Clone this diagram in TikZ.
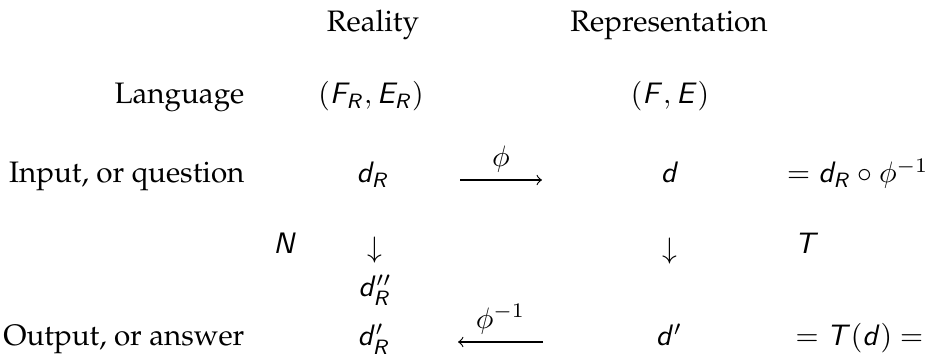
\documentclass[tikz,border=0pt]{standalone}
\usepackage[T1]{fontenc}
\renewcommand{\rmdefault}{ppl}
\DeclareMathAlphabet{\mathsfit}{OT1}{cmss}{m}{sl}
\newcommand{\sv}[1]{\mathsfit{#1}}
\begin{document}
\begin{tikzpicture}[x=0.338pt,y=-0.338pt,
  lbl/.style={inner sep=0pt, anchor=base},
  lble/.style={inner sep=0pt, anchor=base east},
  lblw/.style={inner sep=0pt, anchor=base west},
  glyph/.style={inner sep=0pt, anchor=center},
  map/.style={->, line width=0.4pt}]
\useasboundingbox (0,0) rectangle (932,354);
% headers
\node[lbl] (hreal) at (373,32) {Reality};
\node[lbl] (hrep) at (669,32) {Representation};
% row: language
\node[lble] (llang) at (245,104) {Language};
\node[lbl] (langR) at (371,104) {$(\sv{F}_{\sv{R}},\sv{E}_{\sv{R}})$};
\node[lbl] (lang) at (670,104) {$(\sv{F},\sv{E})$};
% row: input
\node[lble] (linput) at (245,183) {Input, or question};
\node[lbl] (dR) at (373,183) {$\sv{d}_{\sv{R}}$};
\node[lbl] (d) at (670,183) {$\sv{d}$};
\node[lble] (deq) at (929,183) {$=\sv{d}_{\sv{R}}\circ\phi^{-1}$};
\coordinate (a1s) at (460,180);
\coordinate (a1e) at (542,180);
\draw[map] (a1s) -- node[above=2.5pt, inner sep=0pt] (phi) {$\phi$} (a1e);
% row: maps
\node[lbl] (N) at (285,254) {$\sv{N}$};
\node[glyph] (downL) at (375,250.5) {$\downarrow$};
\node[glyph] (downR) at (670,251.5) {$\downarrow$};
\node[lbl] (T) at (807,254) {$\sv{T}$};
\node[lbl] (dRpp) at (375,297) {$\sv{d}''_{\sv{R}}$};
% row: output
\node[lble] (lout) at (245,346) {Output, or answer};
\node[lbl] (dRp) at (374,346) {$\sv{d}'_{\sv{R}}$};
\node[lbl] (dp) at (669,346) {$\sv{d}'$};
\node[lblw] (dpeq) at (795,346) {$=\sv{T}(\sv{d})=$};
\coordinate (a2s) at (543,342);
\coordinate (a2e) at (458,342);
\draw[map] (a2s) -- node[above=2.5pt, inner sep=0pt] (phiinv) {$\phi^{-1}$} (a2e);
\end{tikzpicture}
\end{document}
